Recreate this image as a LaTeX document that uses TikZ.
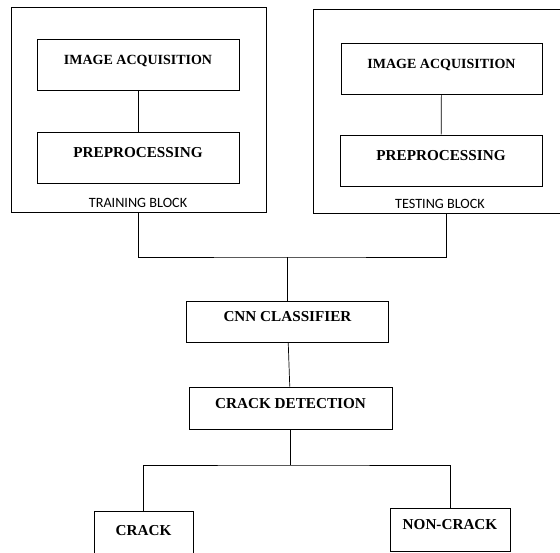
\documentclass[tikz,border=0pt]{standalone}
\usepackage{fontspec}
\setmainfont{Liberation Serif}
\newfontfamily\calibri{Carlito}
\usepackage{tikz}
\usetikzlibrary{positioning}

\begin{document}
\begin{tikzpicture}[
  x=1pt, y=-1pt,
  box/.style={draw, line width=0.8pt, minimum width=202pt, minimum height=51pt, inner sep=0pt, align=center, text height=10pt, text depth=10pt, font=\fontsize{15.2}{17}\selectfont\bfseries},
  smallbox/.style={box, minimum height=42pt},
  outerblock/.style={draw, line width=0.8pt, inner sep=0pt},
  tag/.style={font=\calibri\fontsize{14.2}{16}\selectfont, inner sep=0pt},
  wire/.style={line width=0.7pt}
]
\useasboundingbox (0,0) rectangle (560,552);
\clip (0,0) rectangle (560,552);

% training side
\node[outerblock, minimum width=255pt, minimum height=205pt] (train) at (138.5,109.5) {};
\node[box, font=\fontsize{14}{16}\selectfont\bfseries] (trainacq) at (138,64.5) {IMAGE ACQUISITION};
\node[box] (trainpre) at (138,157.5) {PREPROCESSING};
\node[tag] (trainlbl) at (138,202.5) {TRAINING BLOCK};

% testing side
\node[outerblock, minimum width=266pt, minimum height=204pt] (test) at (446,111) {};
\node[box, minimum width=201pt, font=\fontsize{14}{16}\selectfont\bfseries] (testacq) at (441.5,68.5) {IMAGE ACQUISITION};
\node[box] (testpre) at (441,160.5) {PREPROCESSING};
\node[tag] (testlbl) at (440,203.5) {TESTING BLOCK};

% classifier chain
\coordinate (join) at (287.5,257);
\node[smallbox, minimum height=41pt] (cnn) at (287.5,321.5) {CNN CLASSIFIER};
\node[smallbox, minimum width=203pt] (detect) at (290.5,408) {CRACK DETECTION};

% outputs
\coordinate (split) at (290.5,465);
\node[box, minimum width=99pt, minimum height=49pt] (crack) at (143.5,535.5) {CRACK};
\node[box, minimum width=120pt, minimum height=43pt] (noncrack) at (450,529.5) {NON-CRACK};

\draw[wire] (trainacq) -- (trainpre);
\draw[wire] (testacq) -- (testpre);
\draw[wire] (train.south) |- (join) -| (test.south);
\draw[wire] (join) -- (cnn.north);
\draw[wire] (cnn) -- (detect);
\draw[wire] (detect.south) -- (split);
\draw[wire] (crack.north) |- (split) -| (noncrack.north);

\end{tikzpicture}
\end{document}
